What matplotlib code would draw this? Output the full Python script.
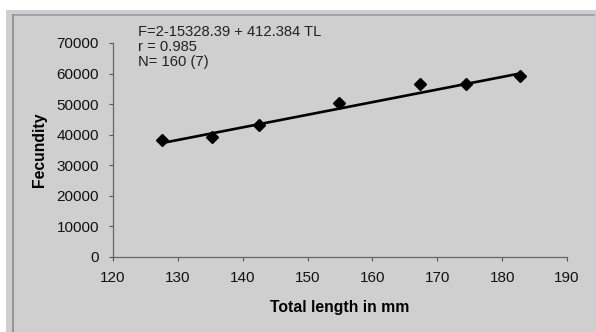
import numpy as np
import matplotlib.pyplot as plt
from matplotlib.patches import Rectangle
from matplotlib.lines import Line2D

# data
total_length = [127.5, 135.2, 142.5, 154.8, 167.3, 174.5, 182.75]
fecundity = [38300, 39150, 43100, 50300, 56600, 56600, 59200]
intercept = -15328.39
slope = 412.384
x_ticks = [120, 130, 140, 150, 160, 170, 180, 190]
y_ticks = [0, 10000, 20000, 30000, 40000, 50000, 60000, 70000]
equation_lines = ["F=2-15328.39 + 412.384 TL", "r = 0.985", "N= 160 (7)"]

plt.rcParams['font.family'] = ['Liberation Sans', 'DejaVu Sans']

bg = "#cfcfcf"
fig = plt.figure(figsize=(5.96, 3.32), dpi=100)
fig.patch.set_facecolor("white")

# gray panel with a thin frame, white margin at top and left
fig.add_artist(Rectangle((6 / 596, 0), 1, 1 - 10 / 332, transform=fig.transFigure,
                         facecolor=bg, edgecolor="none", zorder=0))
fig.add_artist(Line2D([13 / 596, 594 / 596], [1 - 15 / 332, 1 - 15 / 332],
                      transform=fig.transFigure, color="#9a9aa6", lw=1.2))
fig.add_artist(Line2D([13 / 596, 13 / 596], [0, 1 - 15 / 332],
                      transform=fig.transFigure, color="#8a8a8a", lw=1.2))

ax = fig.add_axes([113 / 596, 1 - 257 / 332, 454 / 596, 214 / 332])
ax.set_facecolor("none")

fit_x = np.array([total_length[0], total_length[-1]])
ax.plot(fit_x, intercept + slope * fit_x, color="black", lw=1.9, zorder=2)
ax.plot(total_length, fecundity, linestyle="none", marker="D", markersize=6,
        color="black", zorder=3)

ax.set_xlim(120, 190)
ax.set_ylim(0, 70000)
ax.set_xticks(x_ticks)
ax.set_yticks(y_ticks)
ax.tick_params(direction="out", length=3, width=0.8, color="#555555",
               labelsize=11, labelcolor="#111111")
ax.tick_params(axis="x", pad=7)
ax.tick_params(axis="y", pad=7)
for side in ("top", "right"):
    ax.spines[side].set_visible(False)
for side in ("left", "bottom"):
    ax.spines[side].set_color("#666666")
    ax.spines[side].set_linewidth(0.9)

ax.set_xlabel("Total length in mm", fontsize=11.3, fontweight="bold", labelpad=11)
ax.set_ylabel("Fecundity", fontsize=11.3, fontweight="bold", labelpad=7)

for i, line in enumerate(equation_lines):
    fig.text(138 / 596, 1 - (32 + 15 * i) / 332, line, fontsize=10.6,
             va="center", ha="left", color="#222222")

fig.savefig("out.png", dpi=100, facecolor=fig.get_facecolor())
